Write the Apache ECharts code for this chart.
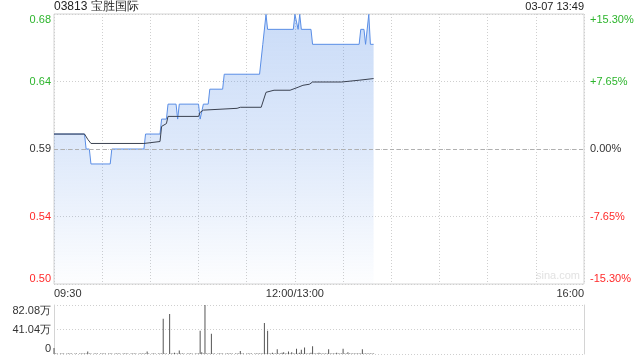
<!DOCTYPE html>
<html>
<head>
<meta charset="utf-8">
<script src="https://cdn.jsdelivr.net/npm/echarts@6/dist/echarts.min.js"></script>
<style>html,body{margin:0;padding:0;background:#fff}#c{width:640px;height:360px}</style>
</head>
<body>
<div id="c"></div>
<script>
// ---- data ----
const title = '03813 宝胜国际';
const stamp = '03-07 13:49';
const prevClose = 0.59;
const pctRange = 15.30;          // % range each side of prev close
const xTickMinutes = [0, 150, 330];
const xTickLabels = ['09:30', '12:00/13:00', '16:00'];
// minutes after 09:30 (trading minutes, lunch removed) and last price
const priceTimes = [0,19,20,22,23,35,36,56,57,66,67,70,71,76,77,78,90,91,92,93,96,97,105,106,128,130,131,132,133,149,150,152,153,154,160,161,190,191,193,194,196,197,199];
const prices     = [0.60,0.60,0.59,0.59,0.58,0.58,0.59,0.59,0.60,0.60,0.61,0.61,0.62,0.62,0.61,0.62,0.62,0.61,0.61,0.62,0.62,0.63,0.63,0.64,0.64,0.66,0.66,0.68,0.67,0.67,0.68,0.67,0.68,0.67,0.67,0.66,0.66,0.67,0.67,0.66,0.68,0.66,0.66];
// average price line
const avgTimes  = [0,19,21,23,56,57,66,67,70,71,90,91,93,114,116,129,132,137,147,148,152,155,159,161,179,180,190,191,199];
const avgPrices = [0.600,0.600,0.5965,0.5937,0.5937,0.5950,0.5950,0.6051,0.6070,0.6118,0.6118,0.6145,0.6160,0.6172,0.6179,0.6179,0.6279,0.6293,0.6293,0.6306,0.6313,0.6326,0.6333,0.6348,0.6348,0.6360,0.6360,0.6371,0.6371];
// volume per minute (万股), index = minute
const volumes = [
10,1,1,0,1,1,1,0,1,1,1,1,0,1,1,0,1,1,1,1,
1,4,1,1,0,1,1,1,0,1,1,1,1,0,1,1,1,0,1,1,
1,1,0,1,1,1,1,0,1,1,1,1,0,1,1,1,1,1,4,1,
0,1,1,1,0,1,1,1,59,1,1,0,67,1,1,2,1,1,6,1,
1,1,0,1,1,1,1,0,1,1,1,39,3,1,82,1,1,1,34,1,
1,0,1,1,1,1,0,1,1,1,1,1,0,1,1,1,5,1,1,0,
1,1,1,1,0,1,1,1,1,1,1,52,1,39,1,1,2,1,1,8,
1,1,2,3,1,1,4,1,3,1,1,9,1,2,7,1,11,1,1,1,
2,13,1,1,1,2,1,1,1,1,1,8,1,1,1,1,2,1,1,1,
9,1,1,3,1,1,1,1,1,1,1,1,8,1,1,1,1,1,1,1
];
const volMax = 82.08;

// ---- build ----
const toPct = p => (p / prevClose - 1) * 100;
const priceData = priceTimes.map((t, i) => [t, toPct(prices[i])]);
const avgData = avgTimes.map((t, i) => [t, toPct(avgPrices[i])]);
const volData = volumes.map((v, i) => [i, v]);

const GREEN = '#2db52d', RED = '#ff2a2a', DARK = '#333';
const colorFor = v => Math.abs(v) < 1e-9 ? DARK : (v > 0 ? GREEN : RED);
const FONT = 'Liberation Sans, Arial, sans-serif';

const chart = echarts.init(document.getElementById('c'), null, {renderer: 'canvas'});
chart.setOption({
  animation: false,
  textStyle: {fontFamily: FONT},
  graphic: [
    {type: 'text', left: 54, top: 1, style: {text: title, fontSize: 12, fill: '#222', fontFamily: FONT}},
    {type: 'text', right: 56, top: 1, style: {text: stamp, fontSize: 11, fill: '#222', fontFamily: FONT}},
    {type: 'text', right: 60, top: 270, style: {text: 'sina.com', fontSize: 11, fill: '#e2e2e2', fontFamily: FONT}}
  ],
  grid: [
    {left: 54, right: 56, top: 14, height: 270, show: true, borderColor: '#d4d4d4', borderWidth: 1},
    {left: 54, right: 56, top: 305, height: 49}
  ],
  xAxis: [
    {type: 'value', gridIndex: 0, min: 0, max: 330, interval: 30,
     axisLine: {show: false}, axisTick: {show: false},
     splitLine: {show: true, lineStyle: {color: '#cfcfcf', type: [1, 2]}},
     axisLabel: {fontSize: 11, color: DARK, margin: 4, showMinLabel: true, showMaxLabel: true,
       alignMinLabel: 'left', alignMaxLabel: 'right',
       formatter: v => { const k = xTickMinutes.indexOf(Math.round(v)); return k >= 0 ? xTickLabels[k] : ''; }}},
    {type: 'value', gridIndex: 1, min: 0, max: 330, interval: 30,
     axisLine: {show: false}, axisTick: {show: false}, axisLabel: {show: false}, splitLine: {show: false}}
  ],
  yAxis: [
    {type: 'value', gridIndex: 0, min: -pctRange, max: pctRange, interval: pctRange / 2,
     axisLine: {show: false}, axisTick: {show: false},
     splitLine: {show: true, lineStyle: {color: '#cfcfcf', type: [1, 2]}},
     axisLabel: {fontSize: 11, margin: 3, color: v => colorFor(v),
       verticalAlignMaxLabel: 'top', verticalAlignMinLabel: 'bottom',
       formatter: v => (prevClose * (1 + v / 100)).toFixed(2)}},
    {type: 'value', gridIndex: 0, position: 'right', min: -pctRange, max: pctRange, interval: pctRange / 2,
     axisLine: {show: false}, axisTick: {show: false}, splitLine: {show: false},
     axisLabel: {fontSize: 11, margin: 6, color: v => colorFor(v),
       verticalAlignMaxLabel: 'top', verticalAlignMinLabel: 'bottom',
       formatter: v => Math.abs(v) < 1e-9 ? '0.00%' : (v > 0 ? '+' : '') + v.toFixed(2) + '%'}},
    {type: 'value', gridIndex: 1, min: 0, max: volMax, interval: volMax / 2,
     axisLine: {show: true, lineStyle: {color: '#d4d4d4'}}, axisTick: {show: false},
     splitLine: {show: true, lineStyle: {color: '#cfcfcf', type: [1, 2]}},
     axisLabel: {fontSize: 11, margin: 3, color: DARK,
       verticalAlignMaxLabel: 'top', verticalAlignMinLabel: 'bottom',
       formatter: v => v === 0 ? '0' : v.toFixed(2) + '万'}},
    {type: 'value', gridIndex: 1, position: 'right', min: 0, max: volMax, interval: volMax / 2,
     axisLine: {show: true, lineStyle: {color: '#d4d4d4'}}, axisTick: {show: false},
     splitLine: {show: false}, axisLabel: {show: false}}
  ],
  series: [
    {type: 'line', xAxisIndex: 0, yAxisIndex: 0, data: priceData, symbol: 'none', silent: true,
     lineStyle: {color: '#5a8ee6', width: 1},
     areaStyle: {origin: 'start', opacity: 1, color: new echarts.graphic.LinearGradient(0, 0, 0, 1, [
       {offset: 0, color: 'rgba(90,145,232,0.32)'},
       {offset: 0.5, color: 'rgba(90,145,232,0.2)'},
       {offset: 1, color: 'rgba(90,145,232,0.01)'}])},
     markLine: {silent: true, symbol: 'none', label: {show: false},
       lineStyle: {color: '#b0b0b0', type: [4, 3], width: 1},
       data: [{yAxis: 0}]}},
    {type: 'line', xAxisIndex: 0, yAxisIndex: 0, data: avgData, symbol: 'none', silent: true,
     lineStyle: {color: '#3a4150', width: 1}},
    {type: 'bar', xAxisIndex: 1, yAxisIndex: 2, data: volData, barWidth: 1, silent: true,
     itemStyle: {color: '#555'}}
  ]
});
</script>
</body>
</html>
